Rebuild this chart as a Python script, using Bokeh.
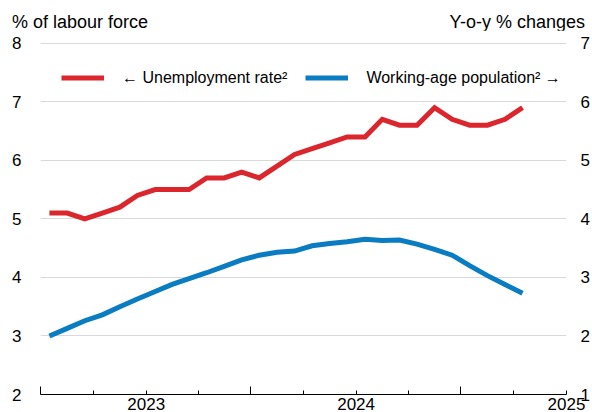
import pandas as pd
from bokeh.plotting import figure
from bokeh.layouts import column
from bokeh.models import (Range1d, LinearAxis, FixedTicker, CustomJSTickFormatter,
                          Legend, LegendItem, Div)
from bokeh.embed import file_html
from bokeh.resources import INLINE

# ---------------- data ----------------
first_month = "2022-07-01"
n_months = 28
unemployment = [5.1, 5.1, 5.0, 5.1, 5.2, 5.4, 5.5, 5.5, 5.5, 5.7, 5.7, 5.8, 5.7, 5.9,
                6.1, 6.2, 6.3, 6.4, 6.4, 6.7, 6.6, 6.6, 6.9, 6.7, 6.6, 6.6, 6.7, 6.9]
working_age = [2.00, 2.13, 2.26, 2.36, 2.50, 2.63, 2.76, 2.88, 2.98, 3.08, 3.19, 3.30, 3.38, 3.43,
               3.45, 3.54, 3.58, 3.61, 3.65, 3.63, 3.64, 3.57, 3.48, 3.38, 3.20, 3.03, 2.88, 2.73]
year_labels = ["2023", "2024", "2025"]
year_dates = ["2023-01-01", "2024-01-01", "2025-01-01"]
left_ticks = [2, 3, 4, 5, 6, 7, 8]
right_ticks = [1, 2, 3, 4, 5, 6, 7]
axis_start, axis_end = "2022-07-01", "2025-01-01"
left_title = "% of labour force"
right_title = "Y-o-y % changes"
label_unemp = "\u2190 Unemployment rate\u00b2"
label_pop = "Working-age population\u00b2 \u2192"

RED = "#dc262d"
BLUE = "#0a7cc2"
FONT = "Liberation Sans"
EPS = 0.03  # small headroom so the top gridline is drawn inside the frame


def to_ms(ts):
    return pd.Timestamp(ts).value / 1e6


starts = pd.date_range(first_month, periods=n_months + 1, freq="MS")
ns = starts.asi8
x_mid = [(ns[i] + ns[i + 1]) / 2 / 1e6 for i in range(n_months)]

x0, x1 = to_ms(axis_start), to_ms(axis_end)
quarters = pd.date_range(axis_start, axis_end, freq="QS-JAN")
major_ticks = [to_ms(q) for q in quarters if q.month != 7]
minor_ticks = [to_ms(q) for q in quarters if q.month == 7]
year_ms = [to_ms(d) for d in year_dates]

TITLE_H = 30
header = Div(
    text=(f'<div style="display:flex;justify-content:space-between;box-sizing:border-box;'
          f'width:592px;height:{TITLE_H}px;padding:12px 7px 0 12px;'
          f"font-family:'{FONT}';font-size:18px;color:#000;line-height:normal;\">"
          f'<span>{left_title}</span><span>{right_title}</span></div>'),
    width=592, height=TITLE_H, margin=0)

p = figure(width=592, height=412 - TITLE_H, output_backend="svg", toolbar_location=None,
           x_range=Range1d(x0, x1), y_range=Range1d(left_ticks[0], left_ticks[-1] + EPS),
           min_border_left=40, min_border_right=22, min_border_top=41 - TITLE_H,
           min_border_bottom=5)
p.extra_y_ranges = {"right": Range1d(right_ticks[0], right_ticks[-1] + EPS)}
p.outline_line_color = None
p.background_fill_color = "white"
p.border_fill_color = "white"

# grid
p.xgrid.visible = False
p.ygrid.ticker = FixedTicker(ticks=left_ticks[1:])
p.ygrid.grid_line_color = "#d9d9d9"
p.ygrid.grid_line_width = 1

# x axis
xa = p.xaxis[0]
xa.ticker = FixedTicker(ticks=major_ticks, minor_ticks=minor_ticks)
xa.formatter = CustomJSTickFormatter(args=dict(pos=year_ms, labels=year_labels), code="""
    for (let i = 0; i < pos.length; i++) {
        if (Math.abs(pos[i] - tick) < 1e6) { return labels[i]; }
    }
    return "";
""")
xa.axis_line_color = "black"
xa.axis_line_width = 1
xa.major_tick_in = 4
xa.major_tick_out = 0
xa.minor_tick_in = 8
xa.minor_tick_out = 0
xa.major_tick_line_color = "black"
xa.minor_tick_line_color = "black"
xa.major_label_standoff = 3
xa.major_label_text_font = FONT
xa.major_label_text_font_size = "17px"
xa.major_label_text_color = "black"

# left axis
ya = p.yaxis[0]
ya.ticker = FixedTicker(ticks=left_ticks)
ya.axis_line_color = None
ya.major_tick_line_color = None
ya.minor_tick_line_color = None
ya.major_label_standoff = 13
ya.major_label_text_font = FONT
ya.major_label_text_font_size = "17px"
ya.major_label_text_color = "black"

# right axis
ra = LinearAxis(y_range_name="right", ticker=FixedTicker(ticks=right_ticks))
ra.axis_line_color = None
ra.major_tick_line_color = None
ra.minor_tick_line_color = None
ra.major_label_standoff = 8
ra.major_label_text_font = FONT
ra.major_label_text_font_size = "17px"
ra.major_label_text_color = "black"
p.add_layout(ra, "right")

# lines
r1 = p.line(x_mid, unemployment, line_color=RED, line_width=5, line_join="miter")
r2 = p.line(x_mid, working_age, y_range_name="right", line_color=BLUE, line_width=5,
            line_join="miter")

legend = Legend(items=[LegendItem(label=label_unemp, renderers=[r1]),
                       LegendItem(label=label_pop, renderers=[r2])],
                orientation="horizontal", location="top_left", margin=21, padding=0,
                spacing=18, glyph_width=43, glyph_height=31, label_standoff=18,
                label_text_font=FONT, label_text_font_size="16px",
                label_text_color="black", border_line_color=None,
                background_fill_alpha=0)
p.add_layout(legend)

layout = column(header, p, spacing=0)
open("out.html", "w").write(file_html(layout, INLINE))
